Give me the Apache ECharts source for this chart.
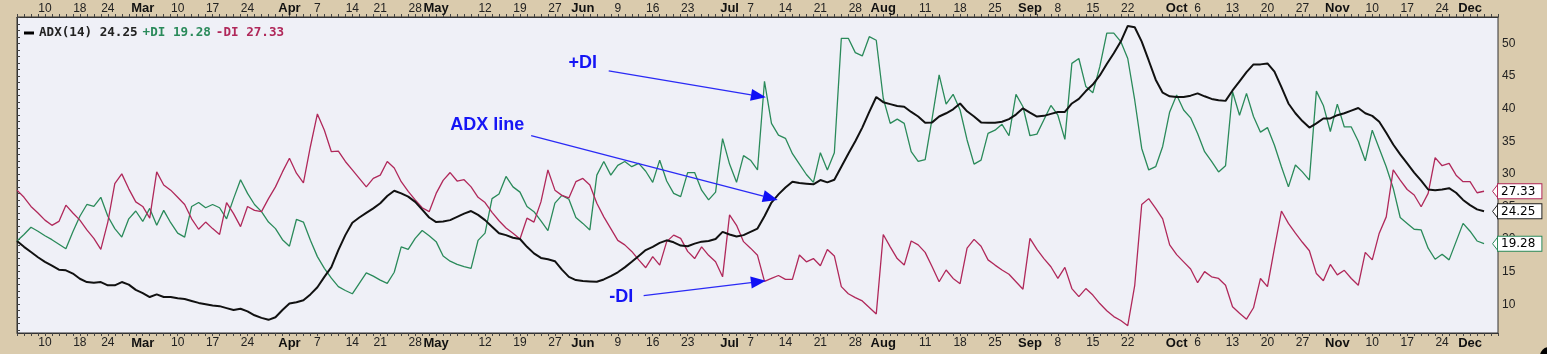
<!DOCTYPE html>
<html><head><meta charset="utf-8">
<script src="https://cdn.jsdelivr.net/npm/echarts@6/dist/echarts.min.js"></script>
<style>html,body{margin:0;padding:0;background:#DACBAD}#c{width:1547px;height:354px}</style>
</head><body><div id="c"></div>
<script>
// ---- calendar (trading days of 2014) ----
const startDate = '2014-02-04';
const endDate = '2014-12-05';
const holidays = ['2014-02-17','2014-04-18','2014-05-26','2014-07-04','2014-09-01','2014-11-27'];
const monthNames = ['Jan','Feb','Mar','Apr','May','Jun','Jul','Aug','Sep','Oct','Nov','Dec'];

// ---- series values ----
const adx = [19.7,18.8,18.0,17.2,16.5,15.9,15.3,15.2,14.7,13.9,13.4,13.3,13.4,12.9,12.9,13.4,13.0,12.2,11.7,11.1,11.5,11.1,11.1,10.9,10.8,10.5,10.2,10.0,9.8,9.7,9.4,9.1,9.3,8.9,8.3,7.9,7.6,8.0,9.1,10.1,10.3,10.6,11.5,12.6,14.2,15.7,18.3,20.6,22.5,23.3,24.0,24.7,25.5,26.6,27.4,
27.0,26.5,25.7,24.5,23.3,22.6,22.7,22.9,23.4,23.9,24.3,23.7,22.9,21.9,20.9,20.6,20.2,20.0,18.8,17.8,17.1,16.9,16.6,15.3,14.2,13.7,13.55,13.5,13.45,13.8,14.3,14.9,15.65,16.5,17.4,18.3,18.8,19.4,19.8,19.5,19.0,18.9,19.3,19.6,19.7,20.0,21.1,20.7,20.4,20.6,21.1,21.6,23.5,
25.6,26.85,27.9,28.8,28.6,28.5,28.4,29.05,28.7,29.1,31.1,33.1,35.0,37.1,39.5,41.8,41.0,40.7,40.4,40.3,39.5,38.8,37.85,37.9,38.8,39.3,39.9,40.8,39.6,38.8,37.9,37.85,37.85,38.0,38.4,39.1,40.05,39.4,38.8,38.9,39.2,39.5,39.5,40.8,41.5,42.7,43.7,45.1,46.85,48.5,50.3,52.7,
52.5,50.3,47.4,44.45,42.45,41.9,41.8,41.8,42.0,42.35,41.9,41.5,41.3,41.2,42.8,44.2,45.6,46.8,46.8,46.95,45.7,43.3,40.8,39.3,38.1,37.1,37.75,38.5,38.5,39.0,39.3,39.7,40.1,39.3,38.9,38.0,36.3,34.5,33.0,31.6,30.2,28.95,27.6,27.5,27.6,27.8,27.1,26.0,25.2,24.55,24.25];

const plusDI = [19.7,20.7,21.8,21.2,20.5,19.9,19.2,18.5,21.1,23.5,25.3,25.0,26.4,23.5,21.6,20.3,23.1,24.3,22.7,24.7,22.1,24.4,22.5,20.9,20.3,25.0,25.6,24.8,25.3,24.8,23.1,26.2,29.1,27.0,25.3,24.2,22.6,21.6,19.9,18.9,23.0,22.6,19.8,17.3,15.5,14.0,12.7,12.1,11.6,13.2,14.8,14.3,13.7,13.2,14.9,
18.8,18.4,20.1,21.3,20.5,19.6,17.4,16.6,16.1,15.75,15.5,19.8,20.9,26.2,26.9,29.6,28.0,27.2,25.0,24.2,22.8,21.3,25.5,26.7,26.1,23.3,22.4,21.4,29.8,31.9,29.8,31.3,31.9,31.1,31.6,30.4,28.7,32.1,28.9,27.0,26.5,30.2,30.2,27.5,26.0,27.2,35.4,31.5,28.7,32.8,32.1,30.6,44.2,
37.75,35.95,35.45,33.1,31.5,29.9,28.7,33.25,30.6,33.25,50.8,50.8,48.6,48.1,51.05,50.5,41.6,37.75,38.4,37.75,33.4,31.9,32.2,38.5,45.2,40.7,42.2,39.8,35.2,31.5,32.1,36.2,36.7,37.6,35.85,42.2,40.3,35.85,36.1,38.3,40.5,39.0,35.3,46.95,47.7,43.4,42.45,46.45,51.6,51.6,50.3,47.7,
41.3,33.9,30.6,31.1,34.2,39.5,42.1,39.8,38.6,36.2,33.4,31.9,30.3,31.25,42.6,39.0,42.35,38.8,36.4,37.1,34.4,31.1,28.0,31.35,30.3,29.05,42.7,40.5,36.5,40.7,37.2,37.2,35.0,32.0,36.7,33.9,31.1,27.8,23.3,22.4,21.5,21.4,18.6,16.9,17.65,16.8,19.6,22.4,21.2,19.7,19.28];

const minusDI = [27.5,26.4,25.0,24.0,22.9,22.1,22.7,25.2,24.0,22.9,21.4,20.1,18.4,22.6,28.5,30.0,27.7,25.7,25.0,23.2,30.3,28.3,27.5,26.4,25.3,23.1,21.5,22.6,21.6,20.7,25.6,23.9,21.9,25.0,24.4,24.2,26.2,28.0,30.3,32.4,30.1,28.6,34.2,39.2,36.7,33.4,33.5,31.9,30.6,29.3,28.0,29.3,29.8,31.9,30.9,
28.8,27.3,26.0,24.8,24.2,27.0,29.0,30.2,28.9,29.1,28.0,26.4,25.6,24.1,22.8,21.7,20.9,20.0,23.2,22.6,25.7,30.6,27.5,26.7,26.3,28.8,29.3,28.3,25.5,23.4,21.6,19.8,19.1,18.1,16.8,15.6,17.3,16.0,19.6,20.6,20.1,18.1,17.0,18.8,17.5,16.5,14.2,23.7,22.1,19.6,18.6,17.5,13.5,
13.95,14.4,13.8,13.8,17.55,16.5,17.0,15.9,18.4,17.4,12.7,11.6,11.0,10.5,9.5,8.5,20.7,18.8,17.0,16.0,19.7,19.1,17.95,15.75,13.45,15.25,13.95,13.15,18.6,19.95,18.9,16.8,16.0,15.25,14.6,13.45,12.3,20.1,18.4,17.0,15.75,13.95,15.65,12.4,11.15,12.4,11.4,10.1,9.0,8.1,7.5,6.7,
12.9,25.3,26.2,24.7,23.1,19.1,17.6,16.5,15.4,13.3,15.0,14.2,13.95,12.9,9.6,8.6,7.7,9.45,13.95,12.7,18.6,24.3,22.4,20.9,19.5,18.2,14.7,13.6,16.1,14.5,15.2,13.95,12.9,17.95,16.8,20.9,23.4,30.6,29.05,27.6,26.75,24.95,27.0,32.5,31.25,31.6,29.8,28.8,28.8,27.1,27.33];

// ---- y axis tick labels ----
const yTickLabels = [10,15,20,25,30,35,40,45,50];
const yTickMarks = [6,7,8,9,10,11,12,13,14,15,16,17,18,19,20,21,22,23,24,25,26,27,28,29,30,31,32,33,34,35,36,37,38,39,40,41,42,43,44,45,46,47,48,49,50,51,52,53,54];

// ---- annotations (text position, arrow start, arrow tip) in [day index, value] ----
const annotations = [
  {text:'+DI', at:[81.0,47.0], from:[84.7,45.8], to:[107.2,41.75]},
  {text:'ADX line', at:[67.3,37.5], from:[73.6,35.85], to:[108.9,26.0]},
  {text:'-DI', at:[86.5,11.1], from:[89.7,11.3], to:[107.2,13.6]}
];

// ---- build categories ----
function tradingDays(s, e, hol) {
  const out = []; const d = new Date(s + 'T00:00:00Z'); const end = new Date(e + 'T00:00:00Z');
  while (d <= end) {
    const dow = d.getUTCDay(); const iso = d.toISOString().slice(0,10);
    if (dow !== 0 && dow !== 6 && hol.indexOf(iso) < 0) out.push(iso);
    d.setUTCDate(d.getUTCDate() + 1);
  }
  return out;
}
const days = tradingDays(startDate, endDate, holidays);
const dt = days.map(s => new Date(s + 'T00:00:00Z'));
const monthIdx = [], weekIdx = [];
for (let i = 1; i < dt.length; i++) {
  if (dt[i].getUTCMonth() !== dt[i-1].getUTCMonth()) monthIdx.push(i);
  if (dt[i].getUTCDay() < dt[i-1].getUTCDay()) weekIdx.push(i);
}
const labelText = days.map(() => '');
monthIdx.forEach(i => { labelText[i] = '{m|' + monthNames[dt[i].getUTCMonth()] + '}'; });
weekIdx.forEach(i => {
  if (labelText[i] !== '') return;
  const near = monthIdx.some(m => Math.abs(m - i) <= 2);
  if (!near) labelText[i] = String(dt[i].getUTCDate());
});

const FONT = '"Liberation Sans", Arial, sans-serif';
const cGreen = '#2A8A5A', cRed = '#B0285A', cBlack = '#111111';

function catAxis(pos) {
  return {
    type: 'category', data: days, position: pos, boundaryGap: false,
    axisLine: {show: true, lineStyle: {color: '#333', width: 1}},
    axisTick: {show: true, interval: 0, length: 3, lineStyle: {color: '#444'}},
    axisLabel: {
      interval: (i) => labelText[i] !== '',
      formatter: (v, i) => labelText[i],
      color: '#222', fontSize: 12, fontFamily: FONT, margin: pos === 'top' ? 2 : 4,
      rich: {m: {fontWeight: 'bold', fontSize: 13, fontFamily: FONT, color: '#111'}}
    },
    splitLine: {show: false}
  };
}
function arrowImg(color) {
  const svg = '<svg xmlns="http://www.w3.org/2000/svg" width="6" height="15"><polygon points="6,0.5 0.5,7.5 6,14.5" fill="#ffffff" stroke="' + color + '" stroke-width="1"/></svg>';
  return 'data:image/svg+xml;charset=utf-8,' + encodeURIComponent(svg);
}
function endLbl(color) {
  return {show: true, distance: 8, formatter: p => '{t|}{b|' + Number(p.value).toFixed(2) + '}',
    rich: {
      t: {width: 6, height: 15, backgroundColor: {image: arrowImg(color)}},
      b: {backgroundColor: '#fff', borderColor: color, borderWidth: 1, padding: [1, 6, 0, 3], height: 13,
          color: '#000', fontSize: 12, fontFamily: '"DejaVu Sans", sans-serif'}
    }};
}
const last = a => a[a.length - 1].toFixed(2);

const chart = echarts.init(document.getElementById('c'), null, {renderer: 'canvas'});
chart.setOption({
  animation: false,
  backgroundColor: '#DACBAD',
  grid: {left: 17, right: 49, top: 17, bottom: 21, show: true, backgroundColor: '#EFF0F7', borderColor: '#333', borderWidth: 1},
  title: {
    left: 19, top: 19,
    text: '{ico|} {a|ADX(14) ' + last(adx) + '} {g|+DI ' + last(plusDI) + '} {r|-DI ' + last(minusDI) + '}',
    textStyle: {rich: {
      ico: {width: 10, height: 3, backgroundColor: '#000'},
      a: {color: '#222', fontSize: 12.6, fontFamily: '"DejaVu Sans Mono", monospace'},
      g: {color: cGreen, fontSize: 12.6, fontFamily: '"DejaVu Sans Mono", monospace'},
      r: {color: cRed, fontSize: 12.6, fontFamily: '"DejaVu Sans Mono", monospace'}
    }}
  },
  xAxis: [catAxis('bottom'), catAxis('top'),
    {type: 'value', min: 0, max: days.length - 1, show: false}],
  yAxis: {
    type: 'value', position: 'right', min: 5.58, max: 54.07, scale: true,
    splitLine: {show: false},
    axisLine: {show: true, lineStyle: {color: '#333'}},
    axisTick: {show: true, length: 3, customValues: yTickMarks, lineStyle: {color: '#444'}},
    axisLabel: {customValues: yTickLabels, color: '#222', fontSize: 12, fontFamily: FONT, margin: 4}
  },
  series: [
    {name: '+DI', type: 'line', data: plusDI, symbol: 'none', lineStyle: {color: cGreen, width: 1.3}, z: 2, endLabel: endLbl(cGreen)},
    {name: '-DI', type: 'line', data: minusDI, symbol: 'none', lineStyle: {color: cRed, width: 1.3}, z: 2, endLabel: endLbl(cRed)},
    {name: 'ADX', type: 'line', data: adx, symbol: 'none', lineStyle: {color: cBlack, width: 2}, z: 3, endLabel: endLbl('#222')}
  ]
});

// annotations positioned through the chart's own scales
function px(p) {
  return [chart.convertToPixel({xAxisIndex: 2}, p[0]), chart.convertToPixel({yAxisIndex: 0}, p[1])];
}
const g = [];
annotations.forEach(a => {
  const t = px(a.at), f = px(a.from), e = px(a.to);
  g.push({type: 'text', x: t[0], y: t[1], z: 10, style: {text: a.text, fill: '#1515F5', fontSize: 18, fontWeight: 'bold', fontFamily: FONT, align: 'center', verticalAlign: 'middle'}});
  const ang = Math.atan2(e[1] - f[1], e[0] - f[0]); const L = 15, W = 6;
  const bx = e[0] - L * Math.cos(ang), by = e[1] - L * Math.sin(ang);
  g.push({type: 'line', z: 10, shape: {x1: f[0], y1: f[1], x2: bx, y2: by}, style: {stroke: '#2A2AF5', lineWidth: 1.3}});
  g.push({type: 'polygon', z: 10, shape: {points: [[e[0], e[1]], [bx + W * Math.sin(ang), by - W * Math.cos(ang)], [bx - W * Math.sin(ang), by + W * Math.cos(ang)]]}, style: {fill: '#1010F5'}});
});
g.push({type: 'circle', z: 10, shape: {cx: 1549, cy: 356, r: 9}, style: {fill: '#000'}});
chart.setOption({graphic: g});
</script></body></html>
